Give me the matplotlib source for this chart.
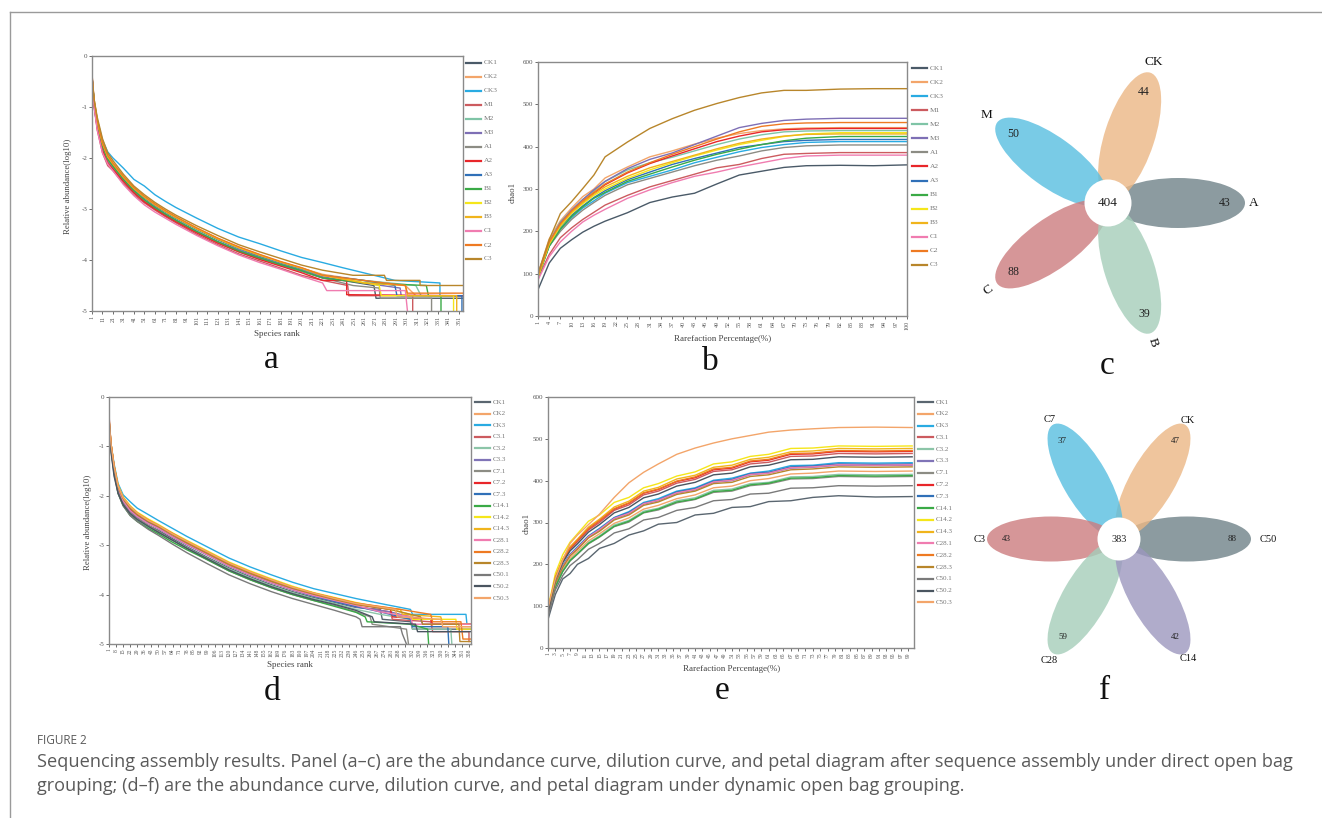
import matplotlib
matplotlib.use('Agg')
import matplotlib.pyplot as plt
from matplotlib.patches import Ellipse, Circle
from matplotlib.lines import Line2D
import numpy as np

# ---------------- DATA ----------------
A_NAMES = ['CK1', 'CK2', 'CK3', 'M1', 'M2', 'M3', 'A1', 'A2', 'A3', 'B1', 'B2', 'B3', 'C1', 'C2', 'C3']
A_COLORS = ['#4a5a68', '#f3a56a', '#29abe2', '#cc5b5f', '#7fc4a6', '#7e6fb5', '#8c8c84', '#e8262a',
            '#3070b8', '#3aaa46', '#f5e61a', '#f0b41c', '#f07cb0', '#ee7a22', '#b8862b']

# panel a: rank-abundance, body at shared ranks
RANK_A = [1, 3, 6, 11, 16, 21, 31, 41, 51, 61, 71, 81, 101, 121, 141, 161, 181, 201, 221]
ABUND_A = {
    'CK1': [-0.45, -1.0, -1.4, -1.8, -2.05, -2.2, -2.45, -2.68, -2.85, -2.98, -3.1, -3.22, -3.45, -3.65, -3.82, -3.96, -4.1, -4.22, -4.35],
    'CK2': [-0.4, -0.85, -1.25, -1.68, -1.95, -2.1, -2.38, -2.6, -2.78, -2.92, -3.05, -3.17, -3.38, -3.58, -3.75, -3.9, -4.04, -4.16, -4.28],
    'CK3': [-0.4, -0.9, -1.25, -1.65, -1.88, -2.0, -2.2, -2.42, -2.55, -2.72, -2.85, -2.97, -3.18, -3.38, -3.55, -3.68, -3.82, -3.95, -4.05],
    'M1': [-0.35, -0.95, -1.45, -1.9, -2.15, -2.25, -2.5, -2.72, -2.88, -3.02, -3.15, -3.27, -3.5, -3.7, -3.88, -4.02, -4.16, -4.3, -4.4],
    'M2': [-0.45, -0.9, -1.3, -1.75, -2.0, -2.15, -2.4, -2.62, -2.78, -2.93, -3.06, -3.18, -3.4, -3.6, -3.78, -3.93, -4.06, -4.18, -4.3],
    'M3': [-0.4, -0.9, -1.3, -1.78, -2.02, -2.18, -2.42, -2.64, -2.82, -2.96, -3.1, -3.22, -3.44, -3.64, -3.8, -3.95, -4.08, -4.2, -4.33],
    'A1': [-0.45, -0.95, -1.35, -1.8, -2.05, -2.2, -2.45, -2.66, -2.84, -2.98, -3.12, -3.24, -3.46, -3.66, -3.84, -3.98, -4.1, -4.22, -4.35],
    'A2': [-0.4, -0.95, -1.4, -1.85, -2.1, -2.22, -2.46, -2.68, -2.86, -3.0, -3.13, -3.25, -3.47, -3.67, -3.84, -3.99, -4.12, -4.25, -4.4],
    'A3': [-0.4, -0.9, -1.3, -1.75, -2.0, -2.14, -2.38, -2.6, -2.78, -2.93, -3.06, -3.18, -3.4, -3.6, -3.77, -3.92, -4.05, -4.17, -4.3],
    'B1': [-0.4, -0.9, -1.3, -1.76, -2.02, -2.16, -2.42, -2.64, -2.82, -2.97, -3.1, -3.22, -3.44, -3.64, -3.82, -3.96, -4.09, -4.21, -4.35],
    'B2': [-0.45, -0.9, -1.25, -1.7, -1.96, -2.1, -2.36, -2.58, -2.76, -2.9, -3.04, -3.16, -3.38, -3.58, -3.76, -3.9, -4.04, -4.16, -4.3],
    'B3': [-0.45, -0.9, -1.28, -1.72, -1.98, -2.12, -2.38, -2.6, -2.77, -2.92, -3.05, -3.17, -3.39, -3.59, -3.76, -3.91, -4.04, -4.16, -4.3],
    'C1': [-0.4, -1.0, -1.45, -1.9, -2.12, -2.25, -2.52, -2.74, -2.92, -3.06, -3.18, -3.3, -3.52, -3.72, -3.9, -4.05, -4.18, -4.32, -4.45],
    'C2': [-0.35, -0.85, -1.25, -1.7, -1.95, -2.1, -2.36, -2.58, -2.75, -2.9, -3.03, -3.15, -3.37, -3.57, -3.74, -3.89, -4.03, -4.15, -4.3],
    'C3': [-0.4, -0.85, -1.2, -1.62, -1.9, -2.05, -2.32, -2.55, -2.72, -2.87, -3.0, -3.12, -3.33, -3.52, -3.7, -3.84, -3.97, -4.1, -4.2],
}
# tails (rank, log10 abundance) after rank 221
TAIL_A = {
    'CK1': [(240, -4.4), (270, -4.5), (272, -4.75), (355, -4.75)],
    'CK2': [(260, -4.4), (300, -4.5), (310, -4.7), (355, -4.7)],
    'CK3': [(240, -4.15), (270, -4.3), (290, -4.4), (333, -4.45), (333, -4.7), (355, -4.7)],
    'M1': [(245, -4.5), (246, -4.7), (300, -4.7), (307, -4.7), (307, -5.0)],
    'M2': [(260, -4.4), (310, -4.5), (315, -4.7), (355, -4.7)],
    'M3': [(260, -4.45), (295, -4.55), (296, -4.7), (355, -4.7)],
    'A1': [(250, -4.5), (275, -4.55), (276, -4.75), (325, -4.75), (325, -5.0)],
    'A2': [(244, -4.4), (244, -4.68), (355, -4.7)],
    'A3': [(260, -4.4), (290, -4.5), (292, -4.7), (354, -4.7), (354, -5.0)],
    'B1': [(260, -4.45), (320, -4.5), (322, -4.7), (334, -4.7), (334, -5.0)],
    'B2': [(250, -4.4), (275, -4.5), (277, -4.7), (346, -4.7), (346, -5.0)],
    'B3': [(260, -4.45), (300, -4.5), (302, -4.7), (349, -4.7), (349, -5.0)],
    'C1': [(225, -4.6), (300, -4.6), (302, -5.0)],
    'C2': [(260, -4.4), (300, -4.5), (302, -4.65), (355, -4.65)],
    'C3': [(250, -4.3), (280, -4.3), (282, -4.4), (314, -4.4), (314, -4.5), (355, -4.5)],
}

# panel b: rarefaction (chao1)
PCT_B = [1, 4, 7, 10, 13, 16, 19, 25, 31, 37, 43, 49, 55, 61, 67, 73, 82, 91, 100]
CHAO_B = {
    'CK1': [62, 125, 160, 180, 198, 212, 224, 244, 268, 281, 290, 312, 333, 342, 351, 355, 356, 355, 357],
    'CK2': [100, 182, 225, 255, 282, 300, 326, 352, 376, 390, 406, 420, 431, 438, 442, 444, 445, 445, 445],
    'CK3': [95, 165, 205, 232, 255, 272, 290, 315, 330, 345, 362, 375, 388, 398, 405, 410, 412, 412, 412],
    'M1': [90, 145, 185, 208, 228, 245, 262, 285, 305, 320, 335, 350, 358, 372, 382, 384, 386, 386, 386],
    'M2': [95, 175, 222, 250, 275, 295, 318, 345, 362, 375, 390, 405, 418, 428, 435, 437, 438, 438, 438],
    'M3': [100, 175, 220, 250, 275, 298, 318, 348, 370, 385, 405, 425, 445, 455, 462, 465, 467, 467, 467],
    'A1': [95, 165, 200, 228, 250, 268, 285, 310, 325, 340, 355, 368, 378, 390, 398, 402, 404, 404, 404],
    'A2': [95, 170, 215, 245, 268, 290, 310, 338, 360, 378, 395, 412, 425, 435, 440, 442, 443, 443, 443],
    'A3': [95, 170, 210, 238, 260, 280, 296, 322, 340, 358, 372, 385, 398, 405, 412, 415, 417, 417, 417],
    'B1': [90, 165, 205, 235, 258, 278, 292, 318, 335, 352, 368, 382, 394, 405, 414, 420, 424, 424, 424],
    'B2': [92, 170, 212, 242, 265, 285, 300, 325, 345, 362, 378, 392, 405, 415, 424, 430, 433, 433, 433],
    'B3': [95, 172, 215, 245, 268, 288, 305, 330, 350, 365, 380, 395, 408, 418, 425, 429, 430, 430, 430],
    'C1': [85, 140, 175, 200, 222, 238, 252, 278, 298, 315, 330, 340, 352, 362, 372, 378, 380, 380, 380],
    'C2': [95, 175, 218, 248, 272, 292, 312, 340, 362, 382, 400, 418, 435, 448, 454, 456, 457, 457, 457],
    'C3': [100, 180, 242, 270, 301, 333, 376, 411, 443, 466, 486, 502, 516, 527, 533, 533, 536, 537, 537],
}

D_NAMES = ['CK1', 'CK2', 'CK3', 'C3.1', 'C3.2', 'C3.3', 'C7.1', 'C7.2', 'C7.3', 'C14.1', 'C14.2', 'C14.3',
           'C28.1', 'C28.2', 'C28.3', 'C50.1', 'C50.2', 'C50.3']
D_COLORS = ['#5a6670', '#f3a56a', '#29abe2', '#cc5b5f', '#8cc5a8', '#8074b7', '#8c8c84', '#e8262a',
            '#3070b8', '#3aaa46', '#f5e61a', '#f0b41c', '#f07cb0', '#ee7a22', '#b8862b', '#7a7a7a',
            '#4a5560', '#f3a56a']

RANK_D = [1, 3, 6, 10, 15, 22, 29, 40, 50, 64, 78, 99, 120, 141, 162, 183, 204, 225, 246]
ABUND_D = {
    'CK1': [-0.5, -1.05, -1.5, -1.9, -2.15, -2.32, -2.45, -2.6, -2.7, -2.87, -3.03, -3.25, -3.46, -3.64, -3.8, -3.94, -4.06, -4.16, -4.26],
    'CK2': [-0.45, -0.95, -1.4, -1.8, -2.05, -2.25, -2.38, -2.52, -2.62, -2.78, -2.94, -3.16, -3.38, -3.56, -3.72, -3.86, -3.98, -4.08, -4.18],
    'CK3': [-0.45, -0.95, -1.35, -1.75, -1.98, -2.12, -2.25, -2.38, -2.5, -2.66, -2.82, -3.04, -3.26, -3.44, -3.6, -3.75, -3.88, -3.98, -4.08],
    'C3.1': [-0.5, -1.0, -1.45, -1.85, -2.1, -2.28, -2.4, -2.54, -2.65, -2.82, -2.97, -3.19, -3.41, -3.6, -3.75, -3.9, -4.02, -4.13, -4.24],
    'C3.2': [-0.45, -1.05, -1.5, -1.92, -2.18, -2.38, -2.5, -2.64, -2.74, -2.9, -3.05, -3.27, -3.48, -3.66, -3.82, -3.96, -4.08, -4.18, -4.3],
    'C3.3': [-0.5, -1.0, -1.45, -1.86, -2.1, -2.3, -2.42, -2.56, -2.66, -2.83, -2.99, -3.2, -3.42, -3.6, -3.76, -3.9, -4.03, -4.14, -4.25],
    'C7.1': [-0.5, -1.05, -1.5, -1.9, -2.15, -2.34, -2.46, -2.6, -2.72, -2.9, -3.06, -3.3, -3.52, -3.7, -3.86, -4.0, -4.12, -4.22, -4.35],
    'C7.2': [-0.45, -1.0, -1.42, -1.82, -2.06, -2.26, -2.38, -2.52, -2.62, -2.78, -2.94, -3.16, -3.38, -3.56, -3.72, -3.87, -3.99, -4.1, -4.2],
    'C7.3': [-0.5, -1.0, -1.45, -1.86, -2.1, -2.3, -2.42, -2.55, -2.66, -2.83, -2.98, -3.2, -3.42, -3.6, -3.76, -3.9, -4.03, -4.14, -4.24],
    'C14.1': [-0.5, -1.05, -1.5, -1.95, -2.2, -2.4, -2.52, -2.66, -2.77, -2.94, -3.09, -3.3, -3.52, -3.7, -3.86, -4.0, -4.12, -4.24, -4.36],
    'C14.2': [-0.4, -0.95, -1.38, -1.78, -2.02, -2.2, -2.33, -2.47, -2.58, -2.75, -2.9, -3.12, -3.34, -3.52, -3.68, -3.83, -3.96, -4.06, -4.16],
    'C14.3': [-0.45, -0.95, -1.4, -1.8, -2.04, -2.22, -2.35, -2.5, -2.6, -2.77, -2.92, -3.14, -3.36, -3.54, -3.7, -3.85, -3.97, -4.08, -4.18],
    'C28.1': [-0.35, -0.95, -1.4, -1.85, -2.1, -2.3, -2.42, -2.56, -2.66, -2.83, -2.98, -3.2, -3.42, -3.6, -3.76, -3.9, -4.02, -4.12, -4.22],
    'C28.2': [-0.4, -0.95, -1.38, -1.8, -2.04, -2.22, -2.35, -2.49, -2.6, -2.76, -2.92, -3.14, -3.36, -3.54, -3.7, -3.85, -3.97, -4.07, -4.17],
    'C28.3': [-0.45, -0.95, -1.4, -1.82, -2.06, -2.25, -2.38, -2.52, -2.62, -2.79, -2.95, -3.17, -3.39, -3.57, -3.73, -3.87, -3.99, -4.1, -4.2],
    'C50.1': [-0.5, -1.1, -1.55, -1.95, -2.2, -2.4, -2.52, -2.68, -2.8, -2.98, -3.15, -3.38, -3.6, -3.78, -3.94, -4.08, -4.2, -4.32, -4.45],
    'C50.2': [-0.5, -1.1, -1.6, -1.95, -2.18, -2.36, -2.48, -2.62, -2.74, -2.9, -3.06, -3.28, -3.5, -3.68, -3.84, -3.98, -4.1, -4.2, -4.32],
    'C50.3': [-0.45, -0.95, -1.4, -1.8, -2.04, -2.22, -2.35, -2.5, -2.6, -2.77, -2.92, -3.14, -3.36, -3.54, -3.7, -3.85, -3.97, -4.08, -4.18],
}
TAIL_D = {
    'CK1': [(270, -4.3), (272, -4.5), (300, -4.55), (302, -4.7), (360, -4.7)],
    'CK2': [(280, -4.3), (282, -4.4), (320, -4.5), (322, -4.65), (360, -4.65)],
    'CK3': [(275, -4.2), (300, -4.3), (302, -4.4), (355, -4.4), (356, -4.6), (360, -4.6)],
    'C3.1': [(280, -4.35), (282, -4.5), (320, -4.55), (322, -4.75), (358, -4.75), (358, -4.95)],
    'C3.2': [(270, -4.4), (300, -4.5), (302, -4.7), (340, -4.7), (341, -5.0)],
    'C3.3': [(280, -4.35), (310, -4.5), (312, -4.6), (360, -4.6)],
    'C7.1': [(260, -4.45), (262, -4.6), (296, -4.7), (298, -5.0)],
    'C7.2': [(280, -4.3), (282, -4.45), (320, -4.5), (322, -4.6), (360, -4.6)],
    'C7.3': [(270, -4.35), (300, -4.5), (302, -4.65), (337, -4.65), (338, -5.0)],
    'C14.1': [(255, -4.45), (257, -4.55), (300, -4.6), (317, -4.7), (318, -5.0)],
    'C14.2': [(280, -4.3), (300, -4.4), (302, -4.5), (345, -4.5), (346, -4.7), (360, -4.7)],
    'C14.3': [(290, -4.3), (292, -4.4), (330, -4.45), (332, -4.6), (360, -4.6)],
    'C28.1': [(270, -4.35), (300, -4.45), (302, -4.6), (360, -4.6)],
    'C28.2': [(290, -4.3), (320, -4.4), (322, -4.55), (350, -4.55), (352, -4.9), (360, -4.9)],
    'C28.3': [(280, -4.3), (310, -4.45), (312, -4.6), (348, -4.6), (349, -4.95), (360, -4.95)],
    'C50.1': [(250, -4.5), (252, -4.65), (290, -4.65), (292, -4.8), (296, -5.0)],
    'C50.2': [(262, -4.45), (264, -4.55), (305, -4.6), (307, -4.75), (360, -4.75)],
    'C50.3': [(285, -4.3), (287, -4.45), (330, -4.5), (332, -4.65), (360, -4.65)],
}

PCT_E = [1, 3, 5, 7, 9, 12, 15, 19, 23, 27, 31, 36, 41, 46, 51, 56, 61, 67, 73, 80, 90, 100]
CHAO_E = {
    'CK1': [68, 128, 165, 178, 200, 214, 238, 250, 270, 280, 296, 300, 318, 322, 336, 338, 350, 352, 360, 364, 361, 362],
    'CK2': [85, 150, 188, 214, 231, 256, 273, 298, 311, 332, 341, 357, 366, 383, 387, 400, 405, 416, 418, 423, 422, 423],
    'CK3': [90, 157, 197, 224, 242, 268, 286, 312, 326, 348, 357, 375, 383, 401, 406, 418, 423, 436, 437, 443, 442, 443],
    'C3.1': [88, 165, 207, 236, 254, 282, 300, 329, 342, 366, 375, 394, 403, 422, 426, 440, 444, 458, 459, 465, 464, 465],
    'C3.2': [85, 147, 185, 210, 226, 252, 268, 294, 305, 327, 334, 352, 359, 377, 380, 393, 396, 409, 410, 415, 414, 415],
    'C3.3': [88, 155, 195, 222, 238, 265, 282, 309, 321, 344, 352, 370, 378, 396, 400, 414, 418, 430, 432, 437, 436, 437],
    'C7.1': [80, 146, 183, 208, 224, 249, 265, 290, 301, 323, 330, 347, 355, 372, 375, 388, 392, 404, 405, 410, 409, 410],
    'C7.2': [90, 168, 210, 238, 257, 285, 304, 332, 346, 370, 379, 398, 407, 426, 430, 445, 449, 463, 464, 470, 469, 470],
    'C7.3': [88, 156, 196, 223, 240, 267, 284, 311, 324, 346, 354, 373, 381, 399, 403, 417, 420, 433, 435, 440, 439, 440],
    'C14.1': [82, 146, 183, 209, 225, 250, 266, 291, 303, 324, 332, 349, 356, 374, 377, 390, 394, 406, 407, 412, 411, 412],
    'C14.2': [95, 178, 223, 253, 273, 303, 318, 348, 360, 383, 393, 411, 421, 440, 445, 458, 463, 477, 478, 483, 482, 483],
    'C14.3': [92, 170, 213, 242, 260, 289, 308, 337, 351, 375, 384, 404, 413, 432, 437, 451, 456, 469, 471, 477, 476, 477],
    'C28.1': [85, 156, 195, 222, 239, 266, 283, 310, 322, 345, 353, 371, 379, 397, 401, 415, 418, 431, 433, 438, 437, 438],
    'C28.2': [90, 168, 210, 239, 258, 286, 305, 333, 347, 371, 380, 399, 409, 428, 432, 447, 451, 465, 466, 472, 471, 472],
    'C28.3': [88, 155, 193, 220, 236, 263, 279, 306, 318, 341, 349, 367, 375, 393, 396, 410, 414, 426, 428, 433, 432, 433],
    'C50.1': [75, 139, 173, 197, 211, 236, 250, 275, 285, 306, 312, 329, 336, 352, 355, 368, 370, 382, 383, 388, 387, 388],
    'C50.2': [85, 163, 204, 232, 249, 277, 295, 323, 336, 359, 368, 387, 396, 414, 418, 433, 437, 450, 451, 457, 456, 457],
    'C50.3': [95, 165, 210, 250, 270, 295, 320, 360, 395, 420, 440, 463, 478, 490, 500, 508, 516, 521, 524, 527, 528, 527],
}

# petal diagrams
PETAL_C_NAMES = ['A', 'CK', 'M', 'C', 'B']
PETAL_C_COUNTS = [43, 44, 50, 88, 39]
PETAL_C_CORE = 404
PETAL_C_COLORS = ['#6f8288', '#ebb785', '#58bee0', '#cc7c7e', '#a5ceba']

PETAL_F_NAMES = ['C50', 'CK', 'C7', 'C3', 'C28', 'C14']
PETAL_F_COUNTS = [88, 47, 37, 43, 59, 42]
PETAL_F_CORE = 383
PETAL_F_COLORS = ['#6f8288', '#ebb785', '#58bee0', '#cc7c7e', '#a5ceba', '#9c97bf']

CAPTION_TITLE = 'FIGURE 2'
CAPTION_L1 = ('Sequencing assembly results. Panel (a\u2013c) are the abundance curve, dilution curve, and petal '
              'diagram after sequence assembly under direct open bag')
CAPTION_L2 = ('grouping; (d\u2013f) are the abundance curve, dilution curve, and petal diagram under dynamic '
              'open bag grouping.')

# ---------------- LAYOUT ----------------
W, H = 1322, 818
plt.rcParams['font.family'] = ['Liberation Serif', 'DejaVu Serif']
fig = plt.figure(figsize=(W / 100, H / 100), dpi=100)


def fx(x):
    return x / W


def fy(y):
    return 1 - y / H


def add_ax(x0, y0, x1, y1):
    return fig.add_axes([x0 / W, 1 - y1 / H, (x1 - x0) / W, (y1 - y0) / H])


def ftext(x, y, s, **kw):
    return fig.text(x / W, 1 - y / H, s, **kw)


SPINE = '#8a8a8a'


def style_ax(ax, xfs=4.3, yfs=5.0):
    for sp in ax.spines.values():
        sp.set_color(SPINE)
        sp.set_linewidth(1.0)
    ax.tick_params(axis='both', direction='out', length=2.2, width=0.6, colors='#555555', pad=1.2)
    ax.tick_params(axis='x', labelsize=xfs, labelrotation=90)
    ax.tick_params(axis='y', labelsize=yfs)


def legend(x0, y0, dy, names, colors, fs=5.3):
    for i, (n, c) in enumerate(zip(names, colors)):
        y = y0 + i * dy
        fig.add_artist(Line2D([fx(x0), fx(x0 + 15)], [fy(y), fy(y)], color=c, lw=1.6))
        ftext(x0 + 18, y, n, fontsize=fs, color='#777777', va='center', ha='left')


def panel_letter(x, y_base, s):
    ftext(x, y_base, s, fontsize=24, ha='center', va='baseline', color='#111111')


LW = 1.0

# ---- panel a ----
axa = add_ax(92, 56, 463, 311)
for n, c in zip(A_NAMES, A_COLORS):
    xs = RANK_A + [t[0] for t in TAIL_A[n]]
    ys = ABUND_A[n] + [t[1] for t in TAIL_A[n]]
    axa.plot(xs, ys, color=c, lw=LW)
axa.set_xlim(1, 355)
axa.set_ylim(-5, 0)
axa.set_yticks(range(-5, 1))
axa.set_yticklabels([str(v) for v in range(-5, 1)])
axa.set_xticks(range(1, 352, 10))
style_ax(axa)
legend(466, 63, 14.0, A_NAMES, A_COLORS)
ftext(68, 186, 'Relative abundance(log10)', rotation=90, fontsize=6.3, ha='center', va='center', color='#444444')
ftext(277, 334, 'Species rank', fontsize=6.5, ha='center', va='center', color='#444444')
panel_letter(271, 368, 'a')

# ---- panel b ----
axb = add_ax(538, 62, 907, 316)
for n, c in zip(A_NAMES, A_COLORS):
    axb.plot(PCT_B, CHAO_B[n], color=c, lw=LW)
axb.set_xlim(1, 100)
axb.set_ylim(0, 600)
axb.set_yticks(range(0, 601, 100))
axb.set_xticks(range(1, 101, 3))
style_ax(axb)
legend(912, 68, 14.07, A_NAMES, A_COLORS)
ftext(513, 192, 'chao1', rotation=90, fontsize=6.3, ha='center', va='center', color='#444444')
ftext(723, 339, 'Rarefaction Percentage(%)', fontsize=6.5, ha='center', va='center', color='#444444')
panel_letter(710, 370, 'b')

# ---- panel d ----
axd = add_ax(109, 397, 471, 644)
for n, c in zip(D_NAMES, D_COLORS):
    xs = RANK_D + [t[0] for t in TAIL_D[n]]
    ys = ABUND_D[n] + [t[1] for t in TAIL_D[n]]
    axd.plot(xs, ys, color=c, lw=LW)
axd.set_xlim(1, 360)
axd.set_ylim(-5, 0)
axd.set_yticks(range(-5, 1))
axd.set_yticklabels([str(v) for v in range(-5, 1)])
axd.set_xticks(range(1, 359, 7))
style_ax(axd, xfs=4.0)
legend(475, 402, 11.53, D_NAMES, D_COLORS, fs=5.0)
ftext(88, 522, 'Relative abundance(log10)', rotation=90, fontsize=6.3, ha='center', va='center', color='#444444')
ftext(290, 665, 'Species rank', fontsize=6.5, ha='center', va='center', color='#444444')
panel_letter(272, 700, 'd')

# ---- panel e ----
axe = add_ax(548, 397, 914, 648)
for n, c in zip(D_NAMES, D_COLORS):
    axe.plot(PCT_E, CHAO_E[n], color=c, lw=LW)
axe.set_xlim(1, 100.5)
axe.set_ylim(0, 600)
axe.set_yticks(range(0, 601, 100))
axe.set_xticks(range(1, 100, 2))
style_ax(axe, xfs=4.0)
legend(918, 402, 11.79, D_NAMES, D_COLORS, fs=5.0)
ftext(527, 523, 'chao1', rotation=90, fontsize=6.3, ha='center', va='center', color='#444444')
ftext(732, 669, 'Rarefaction Percentage(%)', fontsize=6.5, ha='center', va='center', color='#444444')
panel_letter(722, 699, 'e')


# ---- petal diagrams ----
def petal(box, center, angles, names, counts, core, colors, dist, semi_a, semi_b, core_r,
          num_r, label_r, fs_lab, fs_num, label_rot=None):
    x0, y0, x1, y1 = box
    ax = add_ax(x0, y0, x1, y1)
    w, h = x1 - x0, y1 - y0
    ax.set_xlim(0, w)
    ax.set_ylim(0, h)
    ax.axis('off')
    cx, cy = center[0] - x0, y1 - center[1]
    for ang, col in zip(angles, colors):
        t = np.deg2rad(ang)
        ax.add_patch(Ellipse((cx + dist * np.cos(t), cy + dist * np.sin(t)), 2 * semi_a, 2 * semi_b,
                             angle=ang, facecolor=col, edgecolor='none', alpha=0.8))
    ax.add_patch(Circle((cx, cy), core_r, facecolor='white', edgecolor='none'))
    ax.text(cx, cy, str(core), ha='center', va='center', fontsize=fs_num + 1, color='#222222')
    for i, (ang, nm, cnt) in enumerate(zip(angles, names, counts)):
        t = np.deg2rad(ang)
        ax.text(cx + num_r * np.cos(t), cy + num_r * np.sin(t), str(cnt), ha='center', va='center',
                fontsize=fs_num, color='#222222')
        lr = label_r[i]
        rot = 0 if label_rot is None else label_rot[i]
        ax.text(cx + lr * np.cos(t), cy + lr * np.sin(t), nm, ha='center', va='center',
                fontsize=fs_lab, color='#111111', rotation=rot)
    return ax


petal((960, 40, 1300, 380), (1108, 203), [0, 72, 144, 216, 288], PETAL_C_NAMES, PETAL_C_COUNTS,
      PETAL_C_CORE, PETAL_C_COLORS, dist=70, semi_a=67, semi_b=25, core_r=23.5, num_r=117,
      label_r=[146, 148, 150, 148, 146], fs_lab=9.5, fs_num=8.5, label_rot=[0, 0, 0, 36, -72])
panel_letter(1107, 374, 'c')

petal((970, 385, 1300, 715), (1119, 539), [0, 60, 120, 180, 240, 300], PETAL_F_NAMES, PETAL_F_COUNTS,
      PETAL_F_CORE, PETAL_F_COLORS, dist=68, semi_a=64, semi_b=22.5, core_r=21.5, num_r=113,
      label_r=[149, 137, 138, 139, 140, 138], fs_lab=7.5, fs_num=6.5)
panel_letter(1105, 699, 'f')

# ---- frame & caption ----
fig.add_artist(Line2D([fx(10), 1.0], [fy(12), fy(12)], color='#9a9a9a', lw=1.0))
fig.add_artist(Line2D([fx(10), fx(10)], [fy(12), 0.0], color='#9a9a9a', lw=1.0))

CAP_FONT = ['Open Sans', 'DejaVu Sans']
ftext(37, 740, CAPTION_TITLE, fontsize=8.5, family=CAP_FONT, color='#5a5a5a', va='center', ha='left')
t1 = ftext(37, 762, CAPTION_L1, fontsize=12, family=CAP_FONT, color='#5a5a5a', va='center', ha='left')
t2 = ftext(37, 786, CAPTION_L2, fontsize=12, family=CAP_FONT, color='#5a5a5a', va='center', ha='left')
r = fig.canvas.get_renderer()
wpx = t1.get_window_extent(r).width
fs_fit = 12 * (1290 - 37) / wpx
t1.set_fontsize(fs_fit)
t2.set_fontsize(fs_fit)

fig.savefig('out.png', dpi=100, facecolor='white')
